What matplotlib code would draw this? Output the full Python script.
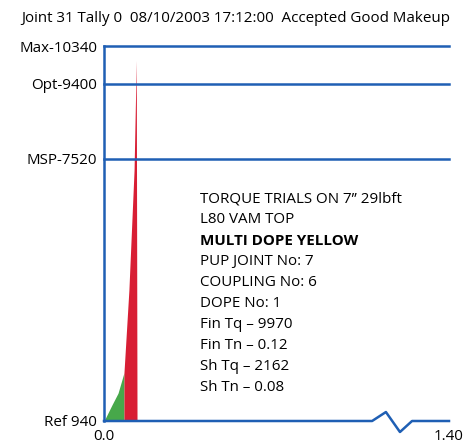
import matplotlib
matplotlib.use("Agg")
import matplotlib.pyplot as plt
import numpy as np

plt.rcParams['font.family'] = ['Open Sans', 'DejaVu Sans']

title = "Joint 31 Tally 0  08/10/2003 17:12:00  Accepted Good Makeup"
ref_levels = [940, 7520, 9400, 10340]
ref_labels = ["Ref 940", "MSP-7520", "Opt-9400", "Max-10340"]
x_ticks = [0.0, 1.40]
x_ticklabels = ["0.0", "1.40"]

# torque curve (turns, torque)
shoulder_turns = [0.0, 0.032, 0.057, 0.081]
shoulder_torque = [940, 1340, 1640, 2150]
final_turns = [0.081, 0.101, 0.122, 0.131, 0.134]
final_torque = [2150, 4220, 7230, 9980, 940]

# baseline trace
base_turns = [0.0, 1.088, 1.144, 1.201, 1.25, 1.40]
base_torque = [940, 940, 1165, 664, 940, 940]

info_lines = ["TORQUE TRIALS ON 7\u2019\u2019 29lbft", "L80 VAM TOP", "MULTI DOPE YELLOW",
              "PUP JOINT No: 7", "COUPLING No: 6", "DOPE No: 1",
              "Fin Tq \u2013 9970", "Fin Tn \u2013 0.12", "Sh Tq \u2013 2162", "Sh Tn \u2013 0.08"]

W, H = 470, 445
fig = plt.figure(figsize=(W/100, H/100), dpi=100)
ax = fig.add_axes([104/W, 1-421/H, (449-104)/W, (421-46)/H])
ax.set_xlim(0, 1.40)
ax.set_ylim(940, 10340)

blue = '#1f5fb4'
red = '#d81e34'
green = '#47a84a'

ax.fill_between(shoulder_turns, 940, shoulder_torque, color=green, lw=0, zorder=2)
ax.fill_between(final_turns, 940, final_torque, color=red, lw=0, zorder=2)

for lv in ref_levels[1:]:
    ax.axhline(lv, color=blue, lw=1.8, clip_on=False, zorder=3)
ax.plot(base_turns, base_torque, color=blue, lw=1.8, clip_on=False, zorder=3)

for s in ['top', 'right', 'bottom']:
    ax.spines[s].set_visible(False)
ax.spines['left'].set_color(blue)
ax.spines['left'].set_linewidth(1.8)

fs = 10.9
ax.set_yticks(ref_levels)
ax.set_yticklabels(ref_labels, fontsize=fs)
ax.set_xticks(x_ticks)
ax.set_xticklabels(x_ticklabels, fontsize=fs)
ax.tick_params(axis='y', length=0, pad=5)
ax.tick_params(axis='x', length=0, pad=6)

fig.text(21/W, 1-22/H, title, fontsize=fs, ha='left', va='baseline')

y0 = 199
for i, line in enumerate(info_lines):
    fig.text(200/W, 1-(y0 + i*20.9)/H, line, fontsize=fs, ha='left', va='center',
             fontweight='bold' if i == 2 else 'normal')

fig.savefig('out.png', dpi=100)
